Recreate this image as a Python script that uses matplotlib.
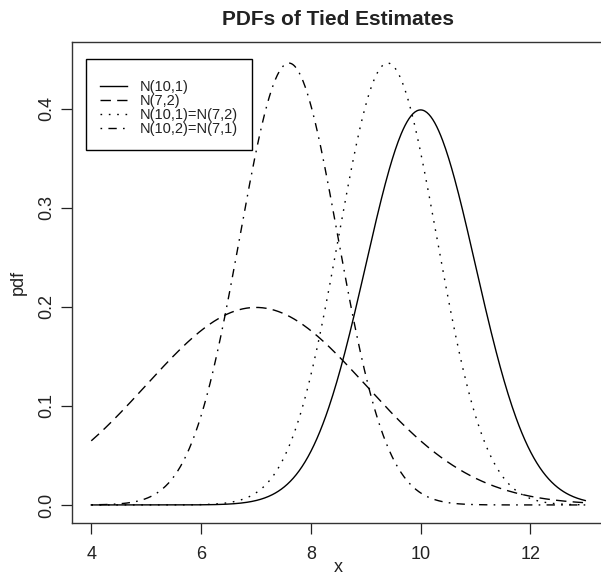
import numpy as np
import matplotlib.pyplot as plt

# normal distributions shown in the chart (tied ones read from peak height / location)
labels = ["N(10,1)", "N(7,2)", "N(10,1)=N(7,2)", "N(10,2)=N(7,1)"]
means = [10.0, 7.0, 9.4, 7.6]
sds = [1.0, 2.0, 0.894, 0.894]
x_range = (4.0, 13.0)

x_ticks = [4, 6, 8, 10, 12]
y_ticks = [0.0, 0.1, 0.2, 0.3, 0.4]

# R-like line types: solid, dashed, dotted, dotdash
dash_styles = [None, (7.5, 4.5), (1.2, 4.8), (1.2, 4.5, 6.0, 4.5)]

plt.rcParams['font.family'] = ['Liberation Sans', 'DejaVu Sans']
text_color = '#222222'

fig = plt.figure(figsize=(6.01, 5.77), dpi=100)
ax = fig.add_axes([0.119, 0.094, 0.8877, 0.834])

x = np.linspace(x_range[0], x_range[1], 500)
for lab, mu, sd, ds in zip(labels, means, sds, dash_styles):
    y = np.exp(-0.5 * ((x - mu) / sd) ** 2) / (sd * np.sqrt(2 * np.pi))
    line, = ax.plot(x, y, color='black', linewidth=1.0, label=lab)
    if ds is not None:
        line.set_dashes(ds)

ax.set_xlim(3.64, 13.36)
ax.set_ylim(-0.018, 0.468)
ax.set_xticks(x_ticks)
ax.set_xticklabels([str(t) for t in x_ticks])
ax.set_yticks(y_ticks)
ax.set_yticklabels([f"{t:.1f}" for t in y_ticks], rotation=90, va='center')

ax.tick_params(direction='out', length=8, width=0.9, colors=text_color,
               labelsize=13, pad=4)
ax.tick_params(axis='x', pad=9)
for sp in ax.spines.values():
    sp.set_linewidth(1.0)
    sp.set_color('#333333')

ax.set_xlabel("x", fontsize=13, color=text_color, labelpad=-3)
ax.set_ylabel("pdf", fontsize=13, color=text_color, labelpad=8)
ax.set_title("PDFs of Tied Estimates", fontsize=15, fontweight='bold',
             color=text_color, pad=12)

# blank tiny title gives the extra top gap of R's legend box
leg = ax.legend(loc='upper left', bbox_to_anchor=(0.0266, 0.9636), borderaxespad=0,
                fontsize=10.5, handlelength=1.9, handletextpad=0.85,
                labelspacing=0.0, borderpad=0.95, fancybox=False,
                edgecolor='black', framealpha=1, title=' ', title_fontsize=5)
leg.get_frame().set_linewidth(1.0)
for t in leg.get_texts():
    t.set_color(text_color)

fig.savefig("out.png", dpi=100)
